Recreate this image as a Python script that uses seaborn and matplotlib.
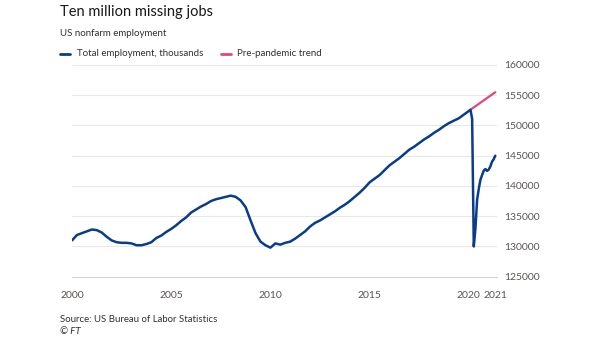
import matplotlib
matplotlib.use("Agg")
import matplotlib.pyplot as plt
import seaborn as sns
import pandas as pd
import numpy as np

# ---- data (decimal year, thousands) ----
emp_dates = [
    2000.00, 2000.25, 2000.50, 2000.75,
    2001.00, 2001.25, 2001.50, 2001.75,
    2002.00, 2002.25, 2002.50, 2002.75,
    2003.00, 2003.25, 2003.50, 2003.75,
    2004.00, 2004.25, 2004.50, 2004.75,
    2005.00, 2005.25, 2005.50, 2005.75,
    2006.00, 2006.25, 2006.50, 2006.75,
    2007.00, 2007.25, 2007.50, 2007.75,
    2008.00, 2008.25, 2008.50, 2008.75,
    2009.00, 2009.25, 2009.50, 2009.75,
    2010.00, 2010.25, 2010.50, 2010.75,
    2011.00, 2011.25, 2011.50, 2011.75,
    2012.00, 2012.25, 2012.50, 2012.75,
    2013.00, 2013.25, 2013.50, 2013.75,
    2014.00, 2014.25, 2014.50, 2014.75,
    2015.00, 2015.25, 2015.50, 2015.75,
    2016.00, 2016.25, 2016.50, 2016.75,
    2017.00, 2017.25, 2017.50, 2017.75,
    2018.00, 2018.25, 2018.50, 2018.75,
    2019.00, 2019.25, 2019.50, 2019.75,
    2020.000, 2020.083, 2020.167, 2020.250, 2020.333, 2020.417,
    2020.500, 2020.583, 2020.667, 2020.750, 2020.833, 2020.917,
    2021.000, 2021.083, 2021.167, 2021.250, 2021.333,
]
emp_values = [
    131000, 131900, 132200, 132500,
    132800, 132700, 132300, 131600,
    131000, 130700, 130600, 130600,
    130500, 130200, 130200, 130400,
    130700, 131400, 131800, 132400,
    132900, 133500, 134200, 134800,
    135600, 136100, 136600, 137000,
    137500, 137800, 138000, 138200,
    138400, 138200, 137600, 136500,
    134300, 132200, 130800, 130200,
    129800, 130500, 130300, 130600,
    130800, 131300, 131900, 132500,
    133300, 133900, 134300, 134800,
    135300, 135800, 136400, 136900,
    137500, 138200, 138900, 139700,
    140600, 141200, 141800, 142600,
    143400, 144000, 144600, 145300,
    146000, 146500, 147100, 147700,
    148200, 148800, 149300, 149900,
    150400, 150800, 151200, 151800,
    152400, 152600, 151100, 130000, 133000, 137700,
    139500, 141000, 141800, 142500, 142800, 142500,
    142700, 143200, 144000, 144400, 145000,
]
trend_dates = [2020.083, 2021.333]
trend_values = [152600, 155500]

y_ticks = [125000, 130000, 135000, 140000, 145000, 150000, 155000, 160000]
x_major = [2000, 2005, 2010, 2015, 2020, 2021.36]
x_major_labels = ["2000", "2005", "2010", "2015", "2020", "2021"]
x_minor = list(range(2000, 2022))

title = "Ten million missing jobs"
subtitle = "US nonfarm employment"
series_names = ["Total employment, thousands", "Pre-pandemic trend"]
source = "Source: US Bureau of Labor Statistics"
credit = "\u00a9 FT"

BLUE = "#0a3c8c"
PINK = "#e8457f"
GRID = "#ebe8e4"
TXT = "#5a5552"
DARK = "#1a1817"

df_emp = pd.DataFrame({"date": emp_dates, "value": emp_values})
df_tr = pd.DataFrame({"date": trend_dates, "value": trend_values})

sns.set_style("white")
plt.rcParams["font.family"] = ["Lato", "DejaVu Sans"]

fig = plt.figure(figsize=(6.05, 3.41), dpi=100)
W, H = 605, 341
left, right, top, bottom = 72, 497, 65, 276.7
ax = fig.add_axes([left / W, 1 - bottom / H, (right - left) / W, (bottom - top) / H])

sns.lineplot(data=df_tr, x="date", y="value", ax=ax, color=PINK, linewidth=1.6)
sns.lineplot(data=df_emp, x="date", y="value", ax=ax, color=BLUE, linewidth=1.8)

ax.set_xlim(2000, 2021.42)
ax.set_ylim(125000, 160000)
ax.set_xlabel("")
ax.set_ylabel("")

ax.set_yticks(y_ticks)
ax.set_yticklabels([str(v) for v in y_ticks])
ax.yaxis.tick_right()
ax.tick_params(axis="y", length=0, pad=5, labelsize=7.5, labelcolor=TXT)
for v in y_ticks[1:]:
    ax.axhline(v, color=GRID, linewidth=0.8, zorder=0)

ax.set_xticks(x_major)
ax.set_xticklabels(x_major_labels)
ax.set_xticks(x_minor, minor=True)
ax.tick_params(axis="x", which="both", length=5, width=0.7, color="#c9c5c1",
               labelsize=7.5, labelcolor=TXT, pad=5, direction="out")

for s in ["top", "right", "left"]:
    ax.spines[s].set_visible(False)
ax.spines["bottom"].set_color("#d7d3cf")
ax.spines["bottom"].set_linewidth(0.8)
ax.grid(False)

# titles
fig.text(60 / W, 1 - 12 / H, title, fontsize=10.5, color=DARK, va="center", ha="left")
fig.text(60 / W, 1 - 34 / H, subtitle, fontsize=7.0, color="#33302e", va="center", ha="left")

# legend
ly = 1 - 54 / H
fig.add_artist(plt.Line2D([60 / W, 70 / W], [ly, ly], color=BLUE, linewidth=2))
fig.text(77 / W, ly, series_names[0], fontsize=7, color="#33302e", va="center", ha="left")
fig.add_artist(plt.Line2D([221 / W, 231 / W], [ly, ly], color=PINK, linewidth=2))
fig.text(237 / W, ly, series_names[1], fontsize=7, color="#33302e", va="center", ha="left")

# source
fig.text(60 / W, 1 - 319 / H, source, fontsize=6.9, color="#33302e", va="center", ha="left")
fig.text(60 / W, 1 - 332 / H, credit, fontsize=6.9, color="#33302e", va="center", ha="left", style="italic")

fig.savefig("out.png", dpi=100, facecolor="white")
